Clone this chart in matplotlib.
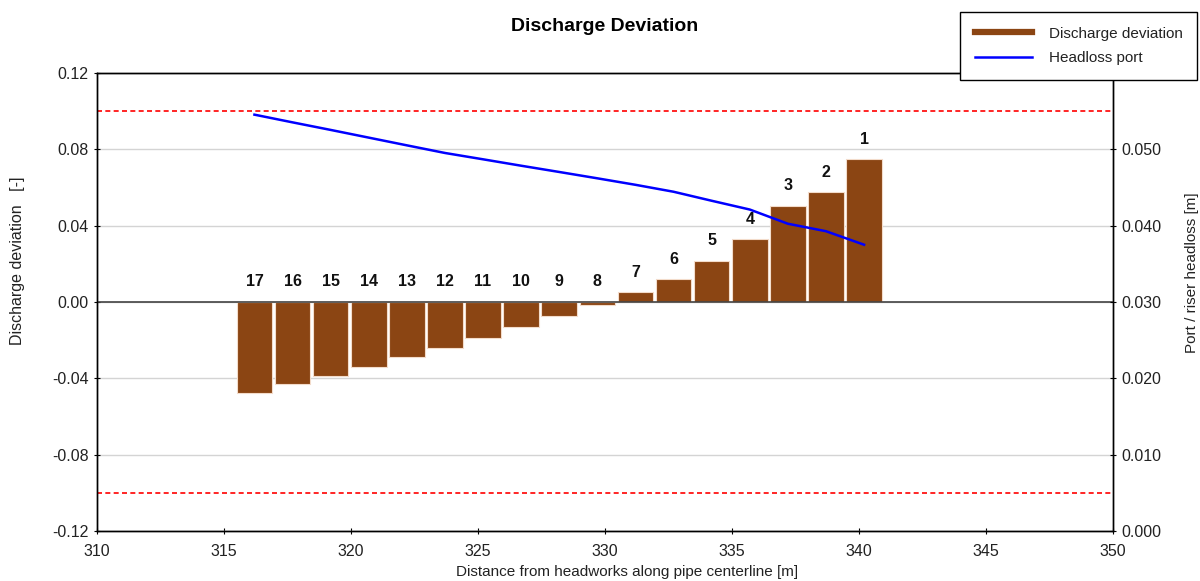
import numpy as np
import matplotlib
matplotlib.use("Agg")
import matplotlib.pyplot as plt
from matplotlib.ticker import FormatStrFormatter

plt.rcParams["font.family"] = ["Liberation Sans", "DejaVu Sans"]
plt.rcParams["axes.unicode_minus"] = False

# ---- data ----
port_ids = list(range(17, 0, -1))
port_x = [316.2, 317.7, 319.2, 320.7, 322.2, 323.7, 325.2, 326.7, 328.2,
          329.7, 331.2, 332.7, 334.2, 335.7, 337.2, 338.7, 340.2]
deviation = [-0.0475, -0.0431, -0.0386, -0.0341, -0.0288, -0.0243, -0.0190,
             -0.0133, -0.0073, -0.0014, 0.0051, 0.0120, 0.0215, 0.0329,
             0.0503, 0.0575, 0.0749]
headloss = [0.05454, 0.05353, 0.05254, 0.05153, 0.05052, 0.04952, 0.04869,
            0.04785, 0.04703, 0.04620, 0.04535, 0.04444, 0.04326, 0.04211,
            0.04025, 0.03927, 0.03750]
limit = 0.10

BROWN = "#8B4513"
TXT = "#222222"
FS = 11.5

fig = plt.figure(figsize=(12, 5.81), dpi=100)
ax = fig.add_axes([0.0808, 0.0861, 0.8467, 0.7883])
ax2 = ax.twinx()

# bars
ax.bar(port_x, deviation, width=1.4, color=BROWN, edgecolor="#f3dccb",
       linewidth=0.8, zorder=3, label="Discharge deviation")
for xi, v, pid in zip(port_x, deviation, port_ids):
    ax.annotate(str(pid), (xi, max(v, 0)), xytext=(0, 9),
                textcoords="offset points", ha="center", va="bottom",
                fontsize=11.5, fontweight="bold", color="#111111", zorder=5)

# reference lines
ax.axhline(0, color="#444444", lw=1.2, zorder=4)
for lv in (limit, -limit):
    ax.axhline(lv, color="red", lw=1.2, ls=(0, (3, 2)), zorder=2)

ax.set_xlim(310, 350)
ax.set_ylim(-0.12, 0.12)
ax.set_xticks(np.arange(310, 351, 5))
ax.set_yticks(np.arange(-0.12, 0.121, 0.04))
ax.yaxis.set_major_formatter(FormatStrFormatter("%.2f"))
ax.yaxis.grid(True, color="#d4d4d4", lw=1.0, zorder=0)
ax.set_axisbelow(True)
ax.tick_params(axis="y", direction="inout", length=5, labelsize=FS,
               colors="black", labelcolor=TXT)
ax.tick_params(axis="x", direction="inout", length=5, labelsize=FS,
               colors="black", labelcolor=TXT, pad=7)
ax.set_xlabel("Distance from headworks along pipe centerline [m]",
              fontsize=11, color=TXT)
ax.xaxis.set_label_coords(0.522, -0.074)
ax.set_ylabel("Discharge deviation   [-]", fontsize=FS, color=TXT)
ax.yaxis.set_label_coords(-0.071, 0.59)

# headloss line
ax2.plot(port_x, headloss, color="blue", lw=1.8, label="Headloss port", zorder=4)
ax2.set_ylim(0, 0.06)
ax2.set_yticks(np.arange(0, 0.051, 0.01))
ax2.yaxis.set_major_formatter(FormatStrFormatter("%.3f"))
ax2.tick_params(axis="y", direction="inout", length=5, labelsize=FS,
                colors="black", labelcolor=TXT)
ax2.set_ylabel("Port / riser headloss [m]", fontsize=11, color=TXT)
ax2.yaxis.set_label_coords(1.0705, 0.563)

for sp in list(ax.spines.values()) + list(ax2.spines.values()):
    sp.set_color("black")
    sp.set_linewidth(1.0)

ax.set_title("Discharge Deviation", fontsize=14, fontweight="bold", pad=30)

# legend (figure level, top right)
h1 = plt.Line2D([], [], color=BROWN, lw=4.5)
h2 = plt.Line2D([], [], color="blue", lw=1.8)
leg = fig.legend([h1, h2], ["Discharge deviation", "Headloss port"],
                 loc="upper left", bbox_to_anchor=(0.8, 0.979),
                 borderaxespad=0, fontsize=11, handlelength=3.75,
                 handletextpad=1.1, borderpad=0.95, labelspacing=0.7,
                 fancybox=False, framealpha=1, edgecolor="black")
leg.get_frame().set_linewidth(1.0)
for t in leg.get_texts():
    t.set_color(TXT)

fig.savefig("out.png", dpi=100, facecolor="white")
